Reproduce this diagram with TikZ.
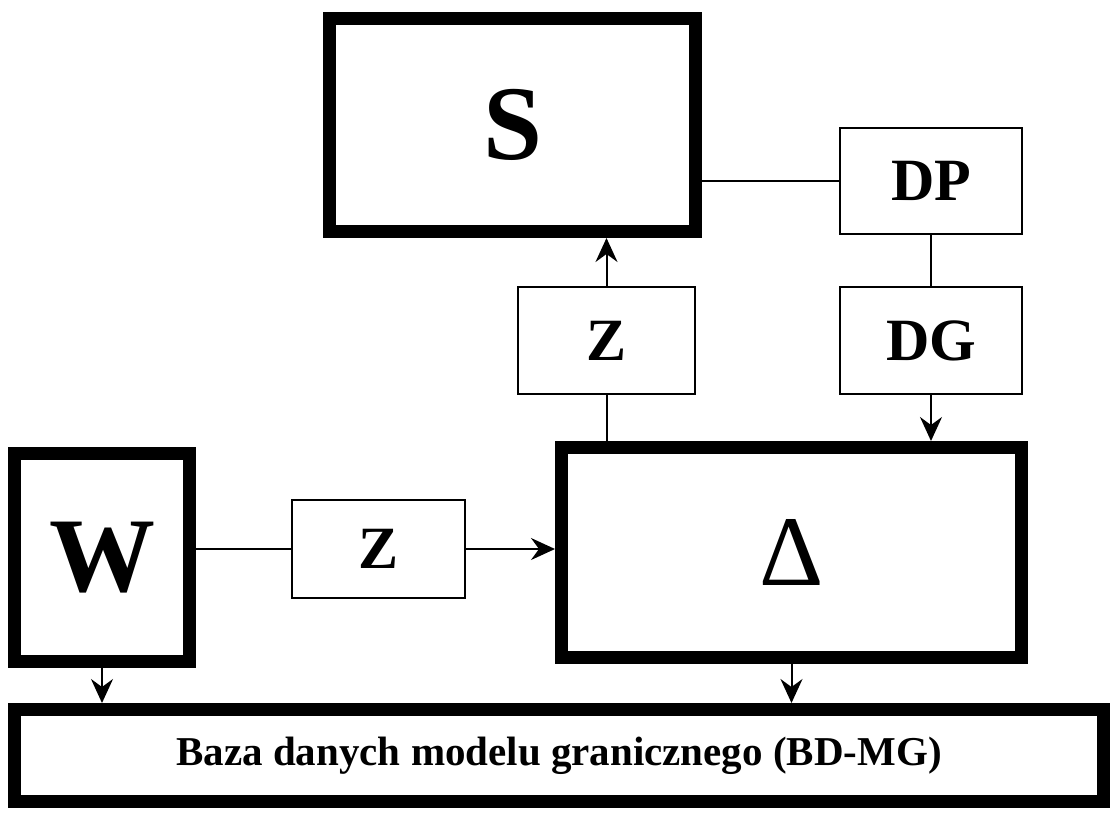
\documentclass[tikz,border=0pt]{standalone}
\usepackage{fontspec}
\setmainfont{Liberation Serif}
\usetikzlibrary{arrows.meta}

\begin{document}
\begin{tikzpicture}[x=1pt,y=-1pt,
    gruby/.style={draw, line width=13pt, inner sep=0pt,
        font=\bfseries\fontsize{106}{110}\selectfont},
    cienki/.style={draw, line width=2pt, inner sep=0pt,
        font=\bfseries\fontsize{60}{64}\selectfont},
    lin/.style={line width=2pt},
    strz/.style={line width=2pt, -{Stealth[length=24pt,width=22pt,inset=8pt]}}]
    \useasboundingbox (0,0) rectangle (1120,820);

    % Bloki glowne
    \node[gruby, minimum width=366pt, minimum height=213pt] (S) at (512.5,125) {S};
    \node[gruby, minimum width=175pt, minimum height=208pt] (W) at (102,557.5) {W};
    \node[gruby, minimum width=460pt, minimum height=210pt,
          font=\mdseries\fontsize{100}{104}\selectfont] (D) at (791.5,552.5) {Δ};
    \node[gruby, minimum width=1089pt, minimum height=92pt,
          font=\bfseries\fontsize{41}{45}\selectfont] (BD) at (559,755.5)
          {Baza danych modelu granicznego (BD-MG)};

    % Bloki pomocnicze
    \node[cienki, minimum width=182pt, minimum height=106pt] (DP) at (931,181) {DP};
    \node[cienki, minimum width=182pt, minimum height=107pt] (DG) at (931,340.5) {DG};
    \node[cienki, minimum width=177pt, minimum height=107pt] (Z1) at (606.5,340.5) {Z};
    \node[cienki, minimum width=173pt, minimum height=98pt] (Z2) at (378.5,549) {Z};

    % Polaczenia
    \draw[lin] (DP.west -| S.east) -- (DP.west);
    \draw[lin] (DP) -- (DG);
    \draw[strz] (DG.south) -- (DG.south |- D.north);
    \draw[strz] (Z1.north) -- (Z1.north |- S.south);
    \draw[lin] (Z1.south) -- (Z1.south |- D.north);
    \draw[lin] (Z2.west -| W.east) -- (Z2.west);
    \draw[strz] (Z2.east) -- (Z2.east -| D.west);
    \draw[strz] (W.south) -- (W.south |- BD.north);
    \draw[strz] (D.south) -- (D.south |- BD.north);
\end{tikzpicture}
\end{document}
